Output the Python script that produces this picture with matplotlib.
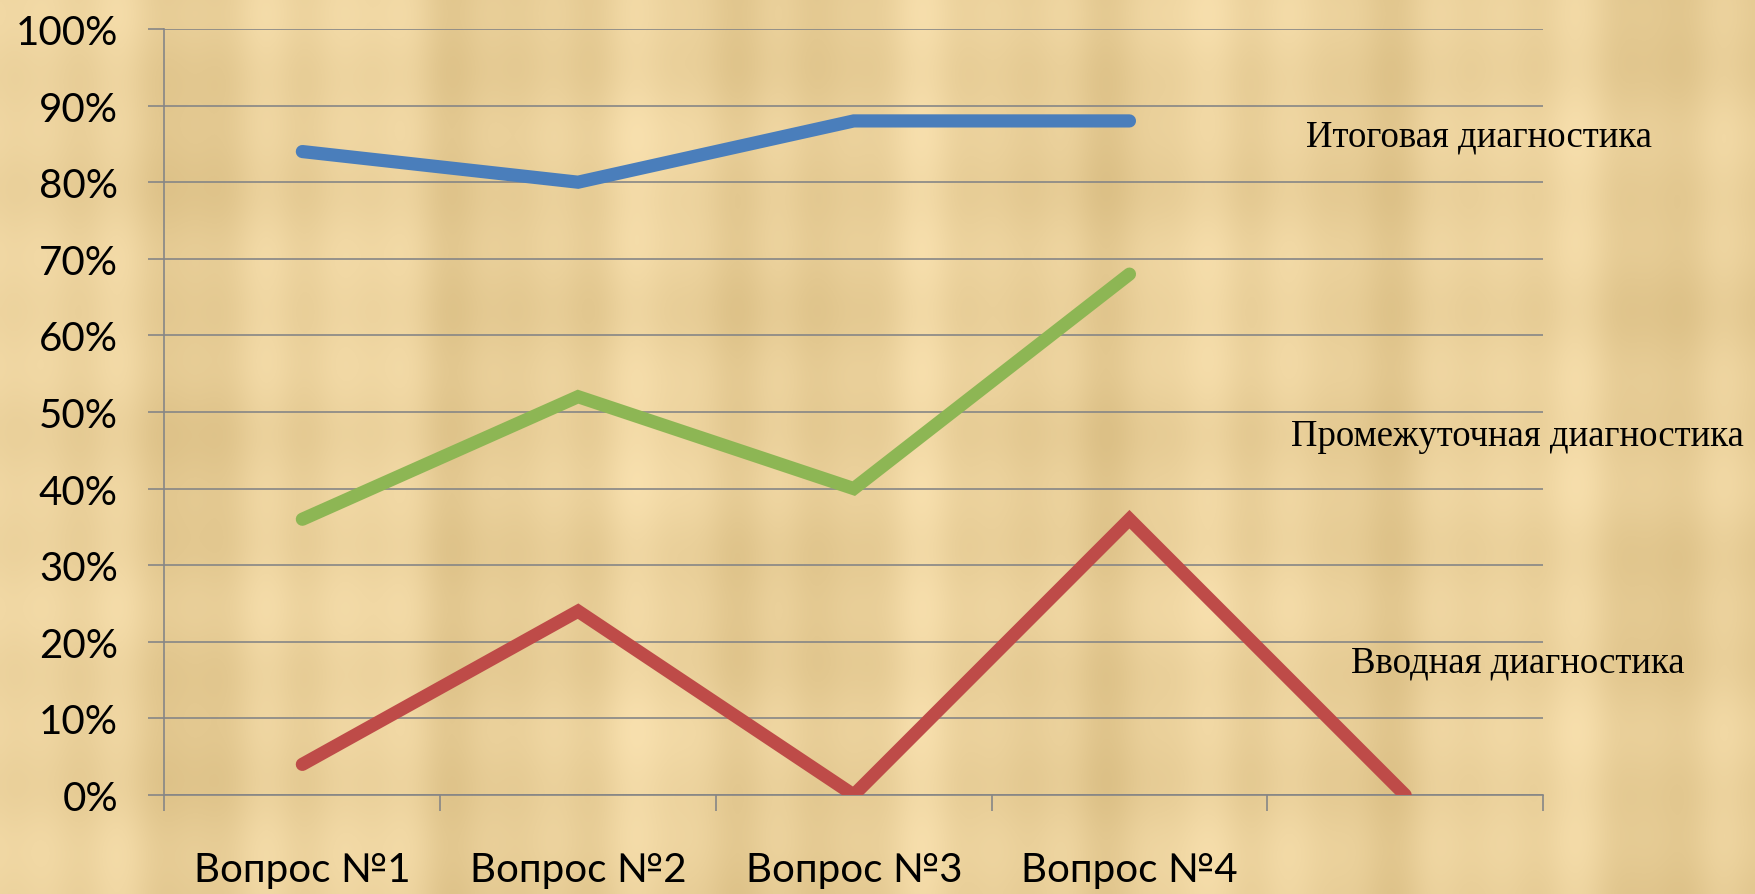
import numpy as np
import matplotlib.pyplot as plt
from matplotlib.ticker import FixedLocator, PercentFormatter

# data (percent)
questions = ["Вопрос №1", "Вопрос №2", "Вопрос №3", "Вопрос №4", ""]
final_diag = [84, 80, 88, 88, np.nan]
mid_diag = [36, 52, 40, 68, np.nan]
intro_diag = [4, 24, 0, 36, 0]
series_names = ["Итоговая диагностика", "Промежуточная диагностика", "Вводная диагностика"]
y_ticks = list(range(0, 101, 10))

W, H = 1756, 895
fig = plt.figure(figsize=(W / 100, H / 100), dpi=100)

# parchment-like background (smooth deterministic streaks)
bg = fig.add_axes([0, 0, 1, 1], zorder=-10)
xx, yy = np.meshgrid(np.linspace(0, 1, W // 4), np.linspace(0, 1, H // 4))
shade = (0.5 * np.sin(xx * 37 + 0.7) + 0.35 * np.sin(xx * 83 + 2.1) + 0.25 * np.sin(xx * 151 + 4.0)
         + 0.3 * np.sin(yy * 19 + 1.3) * np.sin(xx * 11 + 0.4) + 0.2 * np.sin(yy * 47 + 0.9))
shade = shade / np.abs(shade).max()
base = np.array([234, 208, 154]) / 255.0
amp = np.array([14, 16, 20]) / 255.0
img = np.clip(base + shade[..., None] * amp, 0, 1)
bg.imshow(img, aspect="auto", interpolation="bicubic", extent=[0, 1, 0, 1])
bg.axis("off")

ax = fig.add_axes([164.5 / W, 1 - 796 / H, (1543 - 164.5) / W, (796 - 30) / H])
ax.patch.set_alpha(0)

x = np.arange(len(questions))
colors = ["#4A7EBB", "#8DB654", "#BE4B48"]
for vals, c in zip([final_diag, mid_diag, intro_diag], colors):
    ax.plot(x, vals, color=c, lw=9.5, solid_capstyle="round", solid_joinstyle="miter", zorder=3)

ax.set_xlim(-0.5, len(questions) - 0.5)
ax.set_ylim(0, 100)
grid_c = "#868686"
ax.yaxis.set_major_locator(FixedLocator(y_ticks))
ax.yaxis.set_major_formatter(PercentFormatter(decimals=0))
ax.grid(axis="y", color=grid_c, lw=1.2)
ax.set_axisbelow(True)

ax.xaxis.set_major_locator(FixedLocator(np.arange(len(questions) + 1) - 0.5))
ax.xaxis.set_minor_locator(FixedLocator(x))
ax.set_xticklabels([""] * (len(questions) + 1))
ax.set_xticklabels(questions, minor=True)
ax.tick_params(axis="x", which="major", length=11.5, width=1.2, color=grid_c, direction="out")
ax.tick_params(axis="x", which="minor", length=0, pad=40, labelsize=29)
ax.tick_params(axis="y", length=11.5, width=1.2, color=grid_c, pad=22, labelsize=29)
for lab in ax.get_xticklabels(minor=True) + ax.get_yticklabels():
    lab.set_family(["Lato", "DejaVu Sans"])

for s in ["top", "right"]:
    ax.spines[s].set_visible(False)
for s in ["left", "bottom"]:
    ax.spines[s].set_color(grid_c)
    ax.spines[s].set_linewidth(1.2)

# series captions on the right
caption_pos = [(1306, 137), (1291, 437), (1351, 663)]
for name, (px, py) in zip(series_names, caption_pos):
    fig.text(px / W, 1 - py / H, name, ha="left", va="center", fontsize=26.5,
             family=["Liberation Serif", "DejaVu Serif"], color="black")

fig.savefig("out.png", dpi=100)
